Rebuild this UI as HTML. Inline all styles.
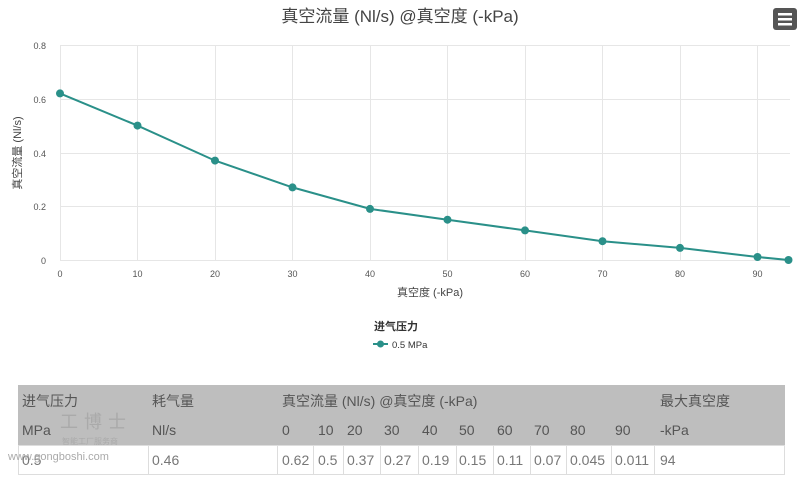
<!DOCTYPE html>
<html><head><meta charset="utf-8"><style>
body{margin:0;width:800px;height:478px;background:#fff;overflow:hidden;font-family:"Liberation Sans","Noto Sans CJK SC",sans-serif;position:relative}
.t{position:absolute;font-size:14px;color:#555;white-space:nowrap}
.d{position:absolute;font-size:14px;color:#777;white-space:nowrap;top:452px}
</style></head><body>
<svg width="800" height="380" style="position:absolute;left:0;top:0" font-family="Liberation Sans, Noto Sans CJK SC, sans-serif">
<text x="400" y="22" text-anchor="middle" font-size="17" fill="#444">真空流量 (Nl/s) @真空度 (-kPa)</text>
<rect x="773" y="8" width="24" height="22" rx="3" fill="#555"/>
<rect x="778" y="13" width="14" height="2.5" fill="#fff"/><rect x="778" y="18" width="14" height="2.5" fill="#fff"/><rect x="778" y="23" width="14" height="2.5" fill="#fff"/>
<g stroke="#e6e6e6" stroke-width="1">
<line x1="60" y1="45.5" x2="790" y2="45.5"/><line x1="60" y1="99.5" x2="790" y2="99.5"/><line x1="60" y1="153.5" x2="790" y2="153.5"/><line x1="60" y1="206.5" x2="790" y2="206.5"/><line x1="60" y1="260.5" x2="790" y2="260.5"/>
<line x1="60.5" y1="45" x2="60.5" y2="260"/><line x1="137.5" y1="45" x2="137.5" y2="260"/><line x1="215.5" y1="45" x2="215.5" y2="260"/><line x1="292.5" y1="45" x2="292.5" y2="260"/><line x1="370.5" y1="45" x2="370.5" y2="260"/><line x1="447.5" y1="45" x2="447.5" y2="260"/><line x1="525.5" y1="45" x2="525.5" y2="260"/><line x1="602.5" y1="45" x2="602.5" y2="260"/><line x1="680.5" y1="45" x2="680.5" y2="260"/><line x1="757.5" y1="45" x2="757.5" y2="260"/>
</g>
<g font-size="9" fill="#555" text-anchor="end">
<text x="46" y="49">0.8</text><text x="46" y="103">0.6</text><text x="46" y="157">0.4</text><text x="46" y="210">0.2</text><text x="46" y="264">0</text>
</g>
<g font-size="9" fill="#555" text-anchor="middle">
<text x="60" y="277">0</text><text x="137.5" y="277">10</text><text x="215" y="277">20</text><text x="292.5" y="277">30</text><text x="370" y="277">40</text><text x="447.5" y="277">50</text><text x="525" y="277">60</text><text x="602.5" y="277">70</text><text x="680" y="277">80</text><text x="757.5" y="277">90</text>
</g>
<text x="430" y="296" text-anchor="middle" font-size="11" fill="#444">真空度 (-kPa)</text>
<text transform="translate(21,153) rotate(-90)" text-anchor="middle" font-size="11" fill="#444">真空流量 (Nl/s)</text>
<polyline fill="none" stroke="#2a9089" stroke-width="2" points="60,93.4 137.5,125.6 215,160.6 292.5,187.4 370,208.9 447.5,219.7 525,230.4 602.5,241.2 680,247.9 757.5,257 788.5,260"/>
<g fill="#2a9089">
<circle cx="60" cy="93.4" r="4"/><circle cx="137.5" cy="125.6" r="4"/><circle cx="215" cy="160.6" r="4"/><circle cx="292.5" cy="187.4" r="4"/><circle cx="370" cy="208.9" r="4"/><circle cx="447.5" cy="219.7" r="4"/><circle cx="525" cy="230.4" r="4"/><circle cx="602.5" cy="241.2" r="4"/><circle cx="680" cy="247.9" r="4"/><circle cx="757.5" cy="257" r="4"/><circle cx="788.5" cy="260" r="4"/>
</g>
<text x="374" y="330" font-size="11" font-weight="bold" fill="#333">进气压力</text>
<line x1="373" y1="344" x2="388" y2="344" stroke="#2a9089" stroke-width="2"/><circle cx="380.5" cy="344" r="3.5" fill="#2a9089"/>
<text x="392" y="348" font-size="9.5" fill="#333">0.5 MPa</text>
</svg>
<div style="position:absolute;left:18px;top:385px;width:767px;height:60px;background:#bebebe"></div>
<div style="position:absolute;left:18px;top:445px;width:767px;height:30px;border:1px solid #ddd;box-sizing:border-box"></div>
<div style="position:absolute;left:148px;top:445px;width:1px;height:30px;background:#ddd"></div>
<div style="position:absolute;left:277px;top:445px;width:1px;height:30px;background:#ddd"></div>
<div style="position:absolute;left:313px;top:445px;width:1px;height:30px;background:#ddd"></div>
<div style="position:absolute;left:343px;top:445px;width:1px;height:30px;background:#ddd"></div>
<div style="position:absolute;left:380px;top:445px;width:1px;height:30px;background:#ddd"></div>
<div style="position:absolute;left:418px;top:445px;width:1px;height:30px;background:#ddd"></div>
<div style="position:absolute;left:456px;top:445px;width:1px;height:30px;background:#ddd"></div>
<div style="position:absolute;left:493px;top:445px;width:1px;height:30px;background:#ddd"></div>
<div style="position:absolute;left:530px;top:445px;width:1px;height:30px;background:#ddd"></div>
<div style="position:absolute;left:566px;top:445px;width:1px;height:30px;background:#ddd"></div>
<div style="position:absolute;left:611px;top:445px;width:1px;height:30px;background:#ddd"></div>
<div style="position:absolute;left:654px;top:445px;width:1px;height:30px;background:#ddd"></div>
<div class="t" style="left:22px;top:391px">进气压力</div>
<div class="t" style="left:152px;top:391px">耗气量</div>
<div class="t" style="left:282px;top:391px">真空流量 (Nl/s) @真空度 (-kPa)</div>
<div class="t" style="left:660px;top:391px">最大真空度</div>
<div class="t" style="left:22px;top:422px">MPa</div>
<div class="t" style="left:152px;top:422px">Nl/s</div>
<div class="t" style="left:282px;top:422px">0</div>
<div class="t" style="left:318px;top:422px">10</div>
<div class="t" style="left:347px;top:422px">20</div>
<div class="t" style="left:384px;top:422px">30</div>
<div class="t" style="left:422px;top:422px">40</div>
<div class="t" style="left:459px;top:422px">50</div>
<div class="t" style="left:497px;top:422px">60</div>
<div class="t" style="left:534px;top:422px">70</div>
<div class="t" style="left:570px;top:422px">80</div>
<div class="t" style="left:615px;top:422px">90</div>
<div class="t" style="left:660px;top:422px">-kPa</div>
<div class="d" style="left:22px">0.5</div>
<div class="d" style="left:152px">0.46</div>
<div class="d" style="left:282px">0.62</div>
<div class="d" style="left:318px">0.5</div>
<div class="d" style="left:347px">0.37</div>
<div class="d" style="left:384px">0.27</div>
<div class="d" style="left:422px">0.19</div>
<div class="d" style="left:459px">0.15</div>
<div class="d" style="left:497px">0.11</div>
<div class="d" style="left:534px">0.07</div>
<div class="d" style="left:570px">0.045</div>
<div class="d" style="left:615px">0.011</div>
<div class="d" style="left:660px">94</div>
<div style="position:absolute;left:60px;top:408px;font-size:18px;color:#aaa;letter-spacing:6px">工博士</div>
<div style="position:absolute;left:62px;top:436px;font-size:8px;color:#aaa">智能工厂服务商</div>
<div style="position:absolute;left:8px;top:451px;font-size:11px;color:#aaa">www.gongboshi.com</div>
</body></html>
